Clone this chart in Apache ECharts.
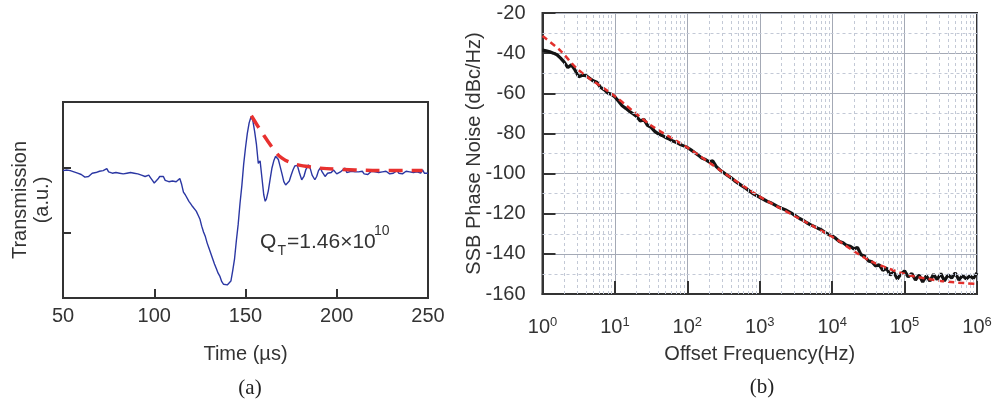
<!DOCTYPE html>
<html>
<head>
<meta charset="utf-8">
<script src="https://cdn.jsdelivr.net/npm/echarts@6/dist/echarts.min.js"></script>
<style>
  html, body { margin: 0; padding: 0; background: #fff; }
  #main { width: 996px; height: 404px; }
</style>
</head>
<body>
<div id="main"></div>
<script>
// (a) ring-down trace, [time µs, transmission a.u.]
const ringdownTrace = [
  [50,1.95],[51,1.97],[52,1.96],[53,1.93],[54,1.95],[55,1.92],[56,1.93],[57,1.90],[58,1.91],[59,1.88],
  [60,1.89],[61,1.86],[62,1.85],[63,1.83],[64,1.86],[65,1.88],[66,1.91],[67,1.90],[68,1.92],[69,1.91],
  [70,1.94],[71,1.92],[72,1.95],[73,1.93],[74,1.98],[75,1.93],[76,1.94],[77,1.91],[78,1.93],[79,1.92],
  [80,1.94],[81,1.91],[82,1.93],[83,1.90],[84,1.92],[85,1.91],[86,1.94],[87,1.92],[88,1.95],[89,1.91],
  [90,1.93],[91,1.90],[92,1.91],[93,1.88],[94,1.89],[95,1.86],[96,1.85],[97,1.88],[98,1.84],[99,1.80],
  [100,1.76],[101,1.79],[102,1.82],[103,1.86],[104,1.84],[105,1.86],[106,1.80],[107,1.82],[108,1.78],[109,1.81],
  [110,1.79],[111,1.82],[112,1.78],[113,1.80],[114,1.83],[115,1.74],[116,1.62],[117,1.58],[118,1.55],[119,1.48],
  [120,1.44],[121,1.40],[122,1.37],[123,1.33],[124,1.27],[125,1.21],[126,1.10],[127,1.01],[128,0.94],[129,0.84],
  [130,0.76],[131,0.68],[132,0.60],[133,0.52],[134,0.45],[135,0.38],[136,0.33],[137,0.25],[138,0.21],[139,0.23],
  [140,0.20],[141,0.22],[142,0.26],[143,0.42],[144,0.60],[145,0.88],[146,1.13],[147,1.45],[148,1.72],[149,2.05],
  [150,2.30],[151,2.52],[152,2.68],[153,2.77],[154,2.72],[155,2.55],[156,2.35],[157,2.06],[158,2.10],[159,1.84],
  [160,1.58],[160.8,1.48],[161.5,1.52],[162.5,1.64],[163.5,1.82],[164.5,1.99],[165.5,2.10],[166.5,2.17],[167.2,2.18],[168,2.12],
  [169,2.01],[170,1.90],[171,1.78],[172,1.73],[173,1.75],[174,1.79],[175,1.88],[176,1.96],[177,2.02],[178.4,2.03],
  [179.5,1.92],[180.8,1.81],[182,1.86],[183,1.96],[184.5,2.04],[185.5,1.98],[186.5,1.88],[188,1.81],[189,1.86],[190,1.95],
  [191,1.99],[192,1.93],[193.6,1.86],[195,1.91],[196,1.94],[197,1.92],[198.2,1.96],[199,1.93],[200,1.90],[201,1.89],
  [202,1.93],[203,1.96],[204.5,1.99],[205.5,1.92],[206.5,1.90],[208,1.94],[209,1.91],[210,1.93],[211,1.90],[212,1.93],
  [213,1.91],[214,1.94],[215,1.90],[216,1.92],[217,1.89],[218,1.92],[219,1.94],[220,1.91],[221,1.93],[222,1.90],
  [223,1.92],[224,1.89],[225,1.93],[226,1.91],[227,1.94],[228,1.92],[229,1.90],[230,1.93],[231,1.91],[232,1.92],
  [233,1.95],[234,1.91],[235,1.93],[236,1.90],[237,1.92],[238,1.94],[239,1.91],[240,1.93],[241,1.90],[242,1.92],
  [243,1.89],[244,1.93],[245,1.95],[246,1.91],[247,1.96],[248,1.91],[249,1.93],[250,1.91]
];
// exponential envelope fit (red dashed)
const ringdownFit = [
  [153.2,2.79],[157,2.62],[160,2.49],[163,2.37],[166,2.25],[170,2.14],[175,2.07],
  [180,2.03],[185,2.01],[190,1.99],[200,1.97],[210,1.96],[225,1.95],[247,1.95]
];

// (b) phase noise, 20 points per decade
const freqMantissa = [1, 1.122, 1.259, 1.413, 1.585, 1.778, 1.995, 2.239, 2.512, 2.818,
  3.162, 3.548, 3.981, 4.467, 5.012, 5.623, 6.310, 7.079, 7.943, 8.913];
const decadeStarts = [1, 10, 100, 1000, 10000, 100000];
const noiseDec0 = [-38.5,-38.8,-39.3,-40.0,-40.8,-42.5,-44.5,-47.2,-45.8,-48.5,-51.8,-51.0,-51.2,-52.5,-53.8,-54.5,-57.0,-58.2,-59.8,-60.5];
const noiseDec1 = [-61.8,-64.0,-66.2,-67.5,-69.0,-70.2,-71.5,-73.8,-73.0,-76.0,-77.0,-79.0,-80.2,-81.0,-82.0,-82.8,-83.8,-84.5,-85.5,-86.2];
const noiseDec2 = [-87.0,-88.2,-89.5,-90.8,-92.3,-93.0,-94.2,-93.6,-96.5,-98.2,-99.5,-100.8,-102.0,-103.5,-104.8,-106.0,-107.2,-108.5,-109.8,-110.8];
const noiseDec3 = [-111.8,-112.8,-113.8,-114.5,-115.5,-116.5,-117.3,-118.0,-119.0,-120.0,-121.2,-122.4,-123.3,-124.5,-125.5,-126.3,-127.2,-128.0,-129.3,-130.3];
const noiseDec4 = [-131.0,-132.3,-133.8,-134.5,-135.8,-136.2,-137.5,-136.8,-140.5,-141.2,-143.5,-144.0,-146.0,-145.5,-148.2,-147.0,-150.5,-149.0,-152.5,-150.0];
const noiseDec5 = [-148.5,-151.5,-149.8,-153.0,-150.5,-154.0,-151.0,-153.5,-150.2,-152.8,-149.8,-153.5,-150.5,-152.0,-149.5,-153.0,-150.8,-152.5,-151.0,-152.2];
const noiseEnd = [1000000, -149.5];
const noiseFit = [
  [1,-31.5],[1.738,-38.5],[3.162,-48.5],[10,-61.5],[31.62,-76],[100,-87],[316.2,-99.5],[1000,-111.5],
  [3162,-121.5],[10000,-131.5],[31623,-143],[100000,-150],[316228,-153.5],[1000000,-155]
];
const minorMantissa = [2, 3, 4, 5, 6, 7, 8, 9];
const minorDb = [-30, -50, -70, -90, -110, -130, -150];

const phaseNoise = [];
[noiseDec0, noiseDec1, noiseDec2, noiseDec3, noiseDec4, noiseDec5].forEach(function (vals, d) {
  vals.forEach(function (v, k) { phaseNoise.push([freqMantissa[k] * decadeStarts[d], v]); });
});
phaseNoise.push(noiseEnd);

const minorLines = [];
decadeStarts.forEach(function (d) {
  minorMantissa.forEach(function (m) { minorLines.push({ xAxis: m * d }); });
});
minorDb.forEach(function (v) { minorLines.push({ yAxis: v }); });

const chart = echarts.init(document.getElementById('main'));
const font = "'Liberation Sans', Arial, sans-serif";
const txt = '#333';
const dark = '#333';

const option = {
  animation: false,
  backgroundColor: '#fff',
  textStyle: { fontFamily: font },
  grid: [
    { left: 63, top: 102, width: 365, height: 196, show: true, borderColor: dark, borderWidth: 2 },
    { left: 542.5, top: 13, width: 434.5, height: 281, show: true, borderColor: dark, borderWidth: 2 }
  ],
  xAxis: [
    {
      type: 'value', gridIndex: 0, min: 50, max: 250, interval: 50,
      axisLine: { show: true, lineStyle: { color: dark, width: 2 } },
      axisTick: { show: true, inside: true, length: 9, lineStyle: { color: dark, width: 2 } },
      axisLabel: { color: txt, fontSize: 20, fontFamily: font, margin: 8 },
      splitLine: { show: false },
      name: 'Time (µs)', nameLocation: 'middle', nameGap: 46, nameMoveOverlap: false,
      nameTextStyle: { color: txt, fontSize: 20, fontFamily: font }
    },
    {
      type: 'log', logBase: 10, gridIndex: 1, min: 1, max: 1000000, splitNumber: 6,
      axisLine: { show: true, lineStyle: { color: dark, width: 2 } },
      axisTick: { show: true, inside: true, length: 13, lineStyle: { color: dark, width: 2 } },
      axisLabel: {
        margin: 22,
        formatter: function (v) { return '{b|10}{s|' + Math.round(Math.log10(v)) + '}'; },
        rich: {
          b: { fontSize: 20, color: txt, fontFamily: font, lineHeight: 22 },
          s: { fontSize: 13, color: txt, fontFamily: font, lineHeight: 13, verticalAlign: 'top' }
        }
      },
      splitLine: { show: true, lineStyle: { color: '#a4a9b5', width: 1 } },
      name: 'Offset Frequency(Hz)', nameLocation: 'middle', nameGap: 50, nameMoveOverlap: false,
      nameTextStyle: { color: txt, fontSize: 20, fontFamily: font }
    }
  ],
  yAxis: [
    {
      type: 'value', gridIndex: 0, min: 0, max: 3, interval: 1,
      axisLine: { show: true, lineStyle: { color: dark, width: 2 } },
      axisTick: { show: true, inside: true, length: 8, lineStyle: { color: dark, width: 2 } },
      axisLabel: { show: false },
      splitLine: { show: false },
      name: 'Transmission\n(a.u.)', nameLocation: 'middle', nameGap: 10, nameMoveOverlap: false,
      nameTextStyle: { color: txt, fontSize: 20, fontFamily: font, lineHeight: 22 }
    },
    {
      type: 'value', gridIndex: 1, min: -160, max: -20, interval: 20,
      axisLine: { show: true, lineStyle: { color: dark, width: 2 } },
      axisTick: { show: true, inside: true, length: 13, lineStyle: { color: dark, width: 2 } },
      axisLabel: { color: txt, fontSize: 20, fontFamily: font, margin: 17 },
      splitLine: { show: true, lineStyle: { color: '#a4a9b5', width: 1 } },
      name: 'SSB Phase Noise (dBc/Hz)', nameLocation: 'middle', nameGap: 58, nameMoveOverlap: false,
      nameTextStyle: { color: txt, fontSize: 20, fontFamily: font }
    }
  ],
  series: [
    {
      name: 'trace', type: 'line', xAxisIndex: 0, yAxisIndex: 0, data: ringdownTrace,
      showSymbol: false, lineStyle: { color: '#2b37a3', width: 1.4 }, z: 3
    },
    {
      name: 'fit', type: 'line', xAxisIndex: 0, yAxisIndex: 0, data: ringdownFit,
      showSymbol: false, smooth: true, lineStyle: { color: '#e8312f', width: 3.5, type: [14, 9] }, z: 4
    },
    {
      name: 'minorGrid', type: 'line', xAxisIndex: 1, yAxisIndex: 1, data: [], silent: true, z: 1,
      markLine: {
        silent: true, symbol: ['none', 'none'], label: { show: false }, animation: false,
        lineStyle: { type: [3, 3], color: '#c3c9d6', width: 1 },
        emphasis: { disabled: true },
        data: minorLines
      }
    },
    {
      name: 'phase noise', type: 'line', xAxisIndex: 1, yAxisIndex: 1, data: phaseNoise,
      showSymbol: false, lineStyle: { color: '#141414', width: 3.2 }, z: 3
    },
    {
      name: 'noise fit', type: 'line', xAxisIndex: 1, yAxisIndex: 1, data: noiseFit,
      showSymbol: false, smooth: 0.3, lineStyle: { color: '#e2302c', width: 2.5, type: [6, 4] }, z: 4
    }
  ],
  graphic: [
    { type: 'text', x: 260, y: 242, style: { text: 'Q', fontSize: 21, fontFamily: font, fill: txt, verticalAlign: 'middle' } },
    { type: 'text', x: 277.5, y: 251, style: { text: 'T', fontSize: 14, fontFamily: font, fill: txt, verticalAlign: 'middle' } },
    { type: 'text', x: 287, y: 242, style: { text: '=1.46×10', fontSize: 21, fontFamily: font, fill: txt, verticalAlign: 'middle' } },
    { type: 'text', x: 374, y: 231, style: { text: '10', fontSize: 14, fontFamily: font, fill: txt, verticalAlign: 'middle' } },
    { type: 'text', x: 250, y: 388, style: { text: '(a)', fontSize: 21, fontFamily: "'Liberation Serif', 'Times New Roman', serif", fill: '#222', align: 'center', verticalAlign: 'middle' } },
    { type: 'text', x: 762, y: 387, style: { text: '(b)', fontSize: 21, fontFamily: "'Liberation Serif', 'Times New Roman', serif", fill: '#222', align: 'center', verticalAlign: 'middle' } }
  ]
};
chart.setOption(option);
</script>
</body>
</html>
